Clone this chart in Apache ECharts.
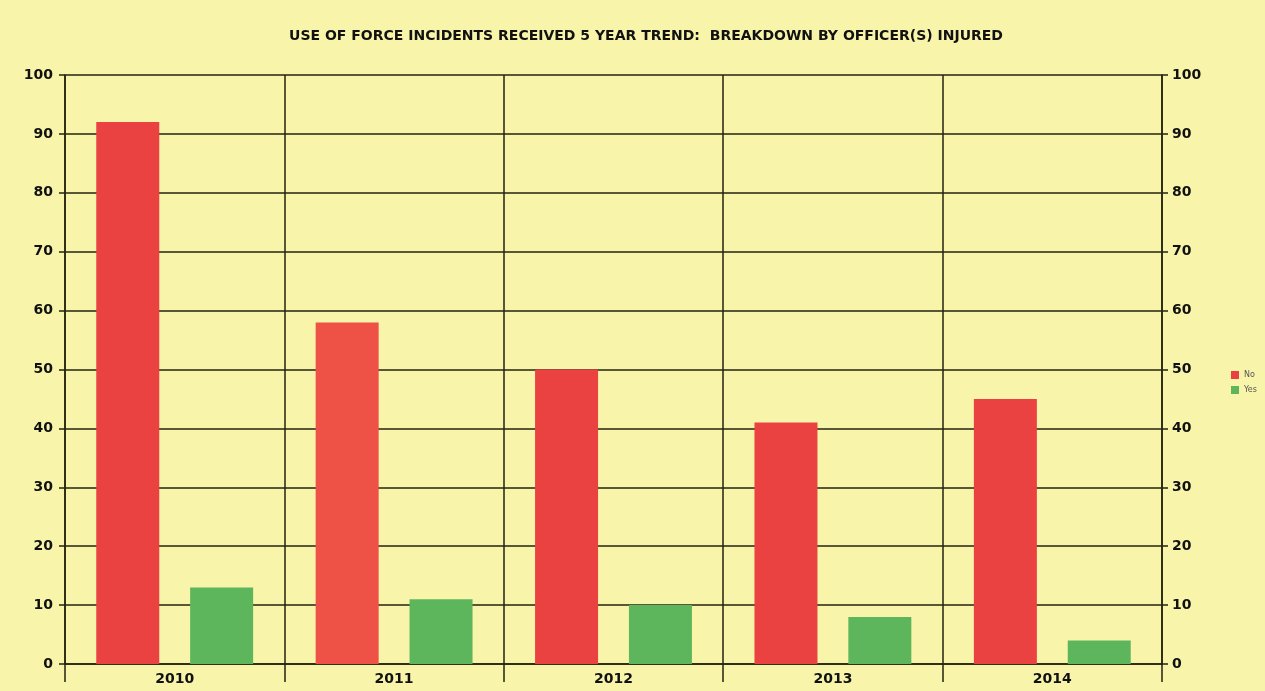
<!DOCTYPE html>
<html>
<head>
<meta charset="utf-8">
<script src="https://cdn.jsdelivr.net/npm/echarts@6/dist/echarts.min.js"></script>
<style>
  html, body { margin: 0; padding: 0; background: #F8F5AA; }
  #chart { width: 1265px; height: 691px; }
</style>
</head>
<body>
<div id="chart"></div>
<script>
// data
var years = ['2010', '2011', '2012', '2013', '2014'];
var injuredNo = [92, 58, 50, 41, 45];
var injuredYes = [13, 11, 10, 8, 4];

var dom = document.getElementById('chart');
var myChart = echarts.init(dom, null, { renderer: 'canvas' });

var lineColor = '#23230f';
var labelFont = { color: '#111', fontSize: 14, fontWeight: 'bold', fontFamily: 'DejaVu Sans' };

var option = {
    backgroundColor: '#F8F5AA',
    animation: false,
    title: {
        text: 'USE OF FORCE INCIDENTS RECEIVED 5 YEAR TREND:  BREAKDOWN BY OFFICER(S) INJURED',
        left: 641,
        top: 24,
        textAlign: 'center',
        textStyle: { color: '#111', fontSize: 14, fontWeight: 'bold', fontFamily: 'DejaVu Sans' }
    },
    legend: {
        orient: 'vertical',
        left: 1226,
        top: 366,
        itemWidth: 8,
        itemHeight: 8,
        itemGap: 7,
        icon: 'rect',
        textStyle: { color: '#555', fontSize: 8, fontFamily: 'DejaVu Sans' },
        data: [
            { name: 'No', itemStyle: { color: '#EA4141' } },
            { name: 'Yes', itemStyle: { color: '#5DB65B' } }
        ]
    },
    grid: { left: 65, right: 103, top: 75, bottom: 27 },
    xAxis: {
        type: 'category',
        data: years,
        axisLine: { lineStyle: { color: lineColor, width: 1.5 } },
        axisTick: { show: true, length: 18, lineStyle: { color: lineColor, width: 1.5 } },
        axisLabel: Object.assign({ margin: 8 }, labelFont),
        splitLine: { show: true, lineStyle: { color: lineColor, width: 1.5 } }
    },
    yAxis: [
        {
            type: 'value',
            min: 0,
            max: 100,
            interval: 10,
            axisLine: { show: true, lineStyle: { color: lineColor, width: 1.5 } },
            axisTick: { show: true, length: 6, lineStyle: { color: lineColor, width: 1.5 } },
            axisLabel: Object.assign({ margin: 12 }, labelFont),
            splitLine: { show: true, lineStyle: { color: lineColor, width: 1.5 } }
        },
        {
            type: 'value',
            position: 'right',
            min: 0,
            max: 100,
            interval: 10,
            axisLine: { show: true, lineStyle: { color: lineColor, width: 1.5 } },
            axisTick: { show: true, length: 6, lineStyle: { color: lineColor, width: 1.5 } },
            axisLabel: Object.assign({ margin: 10 }, labelFont),
            splitLine: { show: false }
        }
    ],
    series: [
        {
            name: 'No',
            type: 'bar',
            data: injuredNo,
            barWidth: 63,
            barGap: '49%',
            itemStyle: {
                // the 2011 bar prints a touch more orange in the scan
                color: function (p) { return p.dataIndex === 1 ? '#EE5145' : '#EA4141'; }
            }
        },
        {
            name: 'Yes',
            type: 'bar',
            data: injuredYes,
            barWidth: 63,
            barGap: '49%',
            itemStyle: { color: '#5DB65B' }
        }
    ]
};

if (option && typeof option === 'object') {
    myChart.setOption(option);
}
</script>
</body>
</html>
